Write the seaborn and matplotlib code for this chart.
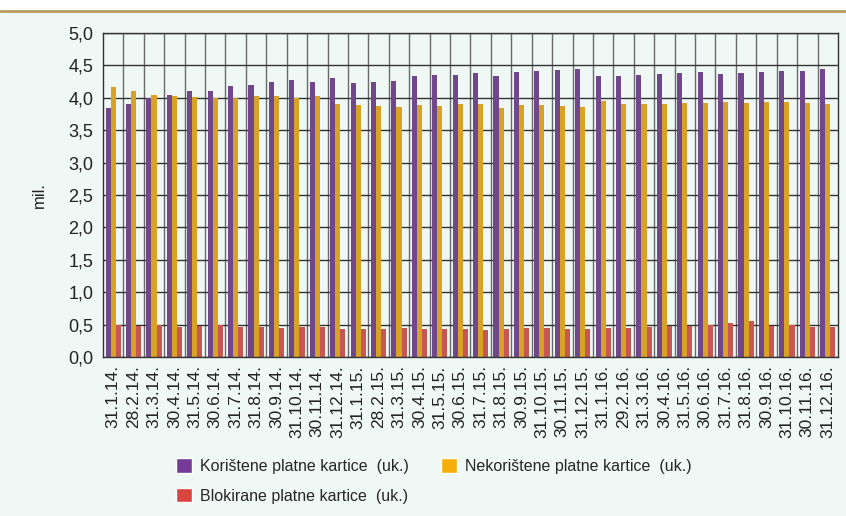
import matplotlib
matplotlib.use("Agg")
import matplotlib.pyplot as plt
import seaborn as sns
import pandas as pd

dates = ["31.1.14.", "28.2.14.", "31.3.14.", "30.4.14.", "31.5.14.", "30.6.14.",
         "31.7.14.", "31.8.14.", "30.9.14.", "31.10.14.", "30.11.14.", "31.12.14.",
         "31.1.15.", "28.2.15.", "31.3.15.", "30.4.15.", "31.5.15.", "30.6.15.",
         "31.7.15.", "31.8.15.", "30.9.15.", "31.10.15.", "30.11.15.", "31.12.15.",
         "31.1.16.", "29.2.16.", "31.3.16.", "30.4.16.", "31.5.16.", "30.6.16.",
         "31.7.16.", "31.8.16.", "30.9.16.", "31.10.16.", "30.11.16.", "31.12.16."]

koristene = [3.84, 3.91, 4.00, 4.05, 4.10, 4.11, 4.18, 4.20, 4.24, 4.27, 4.25, 4.31,
             4.23, 4.25, 4.26, 4.34, 4.35, 4.35, 4.39, 4.34, 4.40, 4.42, 4.43, 4.44,
             4.33, 4.34, 4.35, 4.36, 4.38, 4.40, 4.36, 4.39, 4.40, 4.41, 4.42, 4.44]

nekoristene = [4.16, 4.10, 4.04, 4.03, 4.02, 4.00, 3.99, 4.03, 4.03, 4.00, 4.03, 3.91,
               3.89, 3.87, 3.86, 3.89, 3.88, 3.90, 3.90, 3.85, 3.89, 3.89, 3.88, 3.86,
               3.95, 3.91, 3.91, 3.91, 3.92, 3.92, 3.93, 3.92, 3.93, 3.93, 3.92, 3.91]

blokirane = [0.50, 0.48, 0.49, 0.47, 0.48, 0.50, 0.46, 0.46, 0.45, 0.47, 0.46, 0.44,
             0.44, 0.44, 0.45, 0.43, 0.43, 0.44, 0.42, 0.43, 0.45, 0.45, 0.44, 0.44,
             0.45, 0.45, 0.47, 0.48, 0.48, 0.50, 0.53, 0.56, 0.48, 0.49, 0.47, 0.47]

series = ["Korištene platne kartice  (uk.)",
          "Nekorištene platne kartice  (uk.)",
          "Blokirane platne kartice  (uk.)"]
colors = ["#743C96", "#F5AE0A", "#D9453F"]

bg = "#EFF8F5"

df = pd.DataFrame({
    "datum": dates * 3,
    "serija": [series[0]] * len(dates) + [series[1]] * len(dates) + [series[2]] * len(dates),
    "vrijednost": koristene + nekoristene + blokirane,
})

sns.set_style("white")
plt.rcParams["font.family"] = ["Liberation Sans Narrow", "Liberation Sans", "DejaVu Sans"]

fig = plt.figure(figsize=(8.46, 5.16), dpi=100, facecolor=bg)
ax = fig.add_axes([0.1217, 0.3081, 0.8688, 0.6279])
ax.set_facecolor(bg)

sns.barplot(data=df, x="datum", y="vrijednost", hue="serija", hue_order=series,
            palette=colors, width=0.75, ax=ax, legend=False,
            edgecolor="none", linewidth=0)

ax.set_xlim(-0.5, len(dates) - 0.5)
ax.set_ylim(0, 5)
yt = [i * 0.5 for i in range(11)]
ax.set_yticks(yt)
ax.set_yticklabels([f"{v:.1f}".replace(".", ",") for v in yt], fontsize=13, color="#222222")
ax.set_xticks(range(len(dates)))
ax.set_xticklabels(dates, rotation=90, fontsize=12.5, color="#222222")
ax.set_xticks([i + 0.5 for i in range(len(dates) - 1)], minor=True)
ax.tick_params(axis="both", which="both", length=0)
ax.tick_params(axis="x", pad=6)
ax.tick_params(axis="y", pad=7)

ax.grid(axis="y", color="#333333", linewidth=1.0)
ax.grid(axis="x", which="minor", color="#6a6a6a", linewidth=1.0)
ax.set_axisbelow(True)
for s in ax.spines.values():
    s.set_color("#333333")
    s.set_linewidth(1.0)

ax.set_xlabel("")
ax.set_ylabel("mil.", fontsize=12, color="#222222", labelpad=15)

# top decoration: white strip and brown rule
fig.patches.append(plt.Rectangle((0, 1 - 10 / 516), 1, 10 / 516, transform=fig.transFigure,
                                 facecolor="white", edgecolor="none", zorder=0))
fig.lines.append(plt.Line2D([0, 1], [1 - 11 / 516, 1 - 11 / 516], transform=fig.transFigure,
                            color="#B99B5E", linewidth=2))

handles = [plt.Rectangle((0, 0), 1, 1, facecolor=c) for c in colors]
order = [0, 2, 1]
fig.legend([handles[i] for i in order], [series[i] for i in order],
           ncol=2, loc="upper left", bbox_to_anchor=(0.208, 0.112),
           frameon=False, fontsize=11.5, handlelength=1.0, handleheight=1.0,
           handletextpad=0.5, columnspacing=2.0, labelspacing=0.9,
           borderaxespad=0, borderpad=0)

fig.savefig("out.png", dpi=100, facecolor=bg)
